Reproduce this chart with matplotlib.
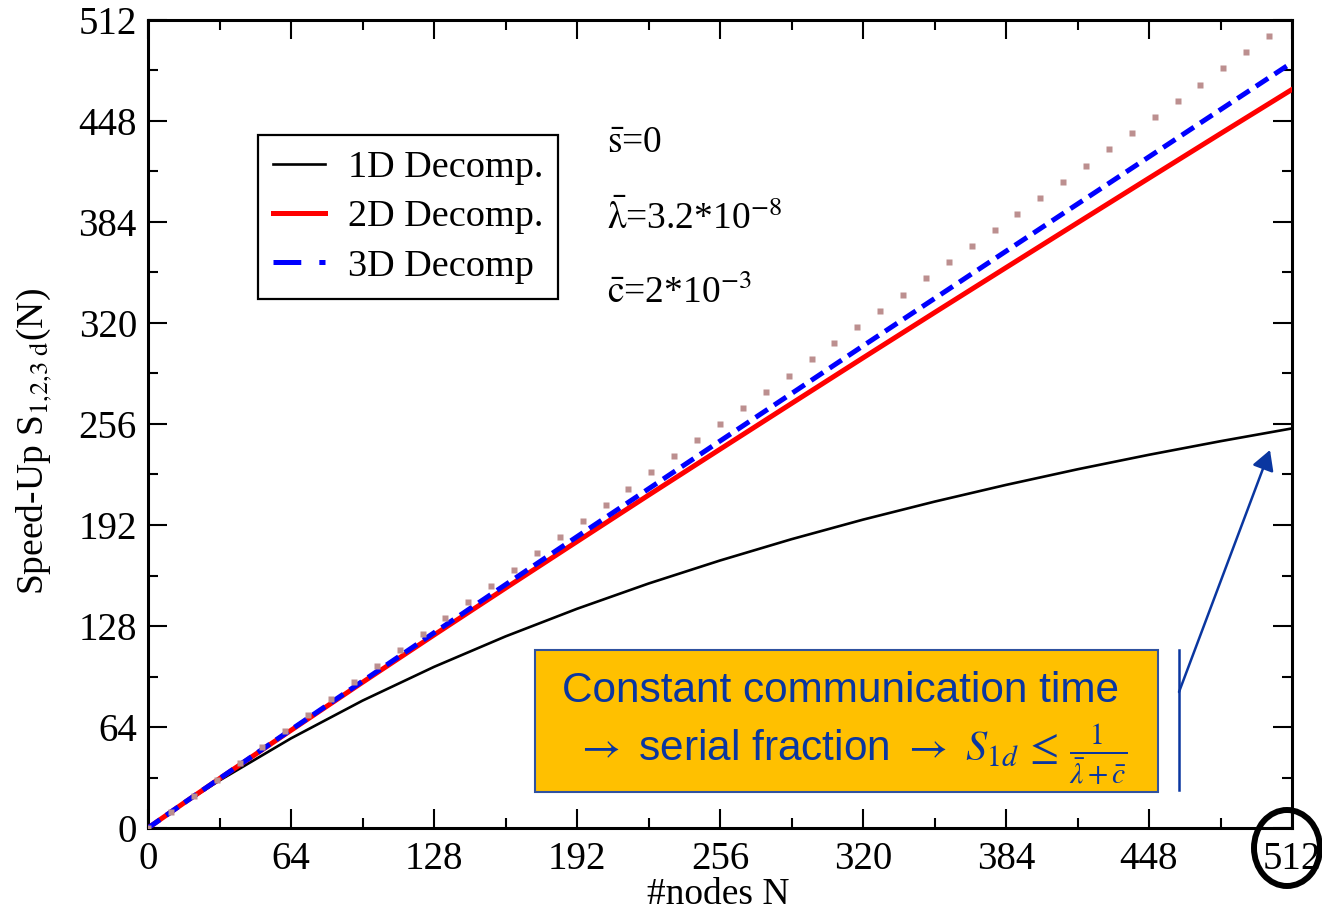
import matplotlib
matplotlib.use('Agg')
import matplotlib.pyplot as plt
from matplotlib.patches import Rectangle, Ellipse, FancyArrowPatch
from matplotlib.lines import Line2D

plt.rcParams['font.family'] = ['Liberation Serif', 'DejaVu Serif']
plt.rcParams['mathtext.fontset'] = 'stix'
plt.rcParams['lines.scale_dashes'] = False

# ---------------- data ----------------
nodes = [0, 16, 32, 64, 96, 128, 160, 192, 224, 256, 288, 320, 352, 384, 416, 448, 480, 512]
speedup_1d = [0, 15.5, 30.1, 56.8, 80.7, 102.1, 121.4, 138.9, 154.9, 169.5, 183.0, 195.4,
              206.8, 217.4, 227.3, 236.5, 245.1, 253.2]
speedup_2d = [0, 15.8, 31.3, 61.9, 92.3, 122.3, 152.0, 181.5, 210.9, 240.0, 269.0, 297.9,
              326.6, 355.1, 383.5, 411.8, 440.0, 468.0]
speedup_3d = [0, 15.8, 31.3, 62.3, 93.0, 123.7, 154.2, 184.6, 214.9, 245.2, 275.3, 305.5,
              335.5, 365.5, 395.4, 425.3, 455.2, 485.0]
ideal_n = [0, 10.2, 20.5, 30.7, 41.0, 51.2, 61.4, 71.7, 81.9, 92.2, 102.4, 112.6, 122.9, 133.1,
           143.4, 153.6, 163.8, 174.1, 184.3, 194.6, 204.8, 215.0, 225.3, 235.5, 245.8, 256.0,
           266.2, 276.5, 286.7, 297.0, 307.2, 317.4, 327.7, 337.9, 348.2, 358.4, 368.6, 378.9,
           389.1, 399.4, 409.6, 419.8, 430.1, 440.3, 450.6, 460.8, 471.0, 481.3, 491.5, 501.8]
ideal_s = [0, 10.2, 20.5, 30.7, 41.0, 51.2, 61.4, 71.7, 81.9, 92.2, 102.4, 112.6, 122.9, 133.1,
           143.4, 153.6, 163.8, 174.1, 184.3, 194.6, 204.8, 215.0, 225.3, 235.5, 245.8, 256.0,
           266.2, 276.5, 286.7, 297.0, 307.2, 317.4, 327.7, 337.9, 348.2, 358.4, 368.6, 378.9,
           389.1, 399.4, 409.6, 419.8, 430.1, 440.3, 450.6, 460.8, 471.0, 481.3, 491.5, 501.8]
major_ticks = [0, 64, 128, 192, 256, 320, 384, 448, 512]
minor_ticks = [32, 96, 160, 224, 288, 352, 416, 480]
legend_labels = ['1D Decomp.', '2D Decomp.', '3D Decomp']

# ---------------- figure ----------------
W, H = 1322, 913
fig = plt.figure(figsize=(W / 100, H / 100), dpi=100)


def fx(x):
    return x / W


def fy(y):
    return 1 - y / H


ax = fig.add_axes([fx(148), fy(828), fx(1292) - fx(148), fy(20) - fy(828)])

ax.plot(nodes, speedup_1d, color='black', lw=1.9, zorder=3)
ax.plot(nodes, speedup_2d, color='#ff0000', lw=3.6, zorder=4)
ax.plot(nodes, speedup_3d, color='#0000ff', lw=3.6, dashes=(10.5, 5.5), zorder=5)
ax.plot(ideal_n, ideal_s, ls='none', marker='s', ms=4.4, color='#bc8f8f', mec='none', zorder=6)

ax.set_xlim(0, 512)
ax.set_ylim(0, 512)
ax.set_xticks(major_ticks)
ax.set_yticks(major_ticks)
ax.set_xticks(minor_ticks, minor=True)
ax.set_yticks(minor_ticks, minor=True)
ax.tick_params(which='both', direction='in', top=True, right=True, width=1.5, colors='black')
ax.tick_params(which='major', length=14, labelsize=28)
ax.tick_params(axis='x', which='major', pad=9)
ax.tick_params(axis='y', which='major', pad=8)
ax.tick_params(which='minor', length=7.5)
for sp in ax.spines.values():
    sp.set_linewidth(2.2)

ax.set_xlabel('#nodes N', fontsize=27)
ax.xaxis.label.set_va('baseline')
ax.xaxis.set_label_coords(fx(718), fy(904), transform=fig.transFigure)
ax.set_ylabel(r'Speed-Up S$_{\mathrm{1{,}2{,}3\ d}}$(N)', fontsize=27)
ax.yaxis.label.set_va('baseline')
ax.yaxis.set_label_coords(fx(43), fy(442), transform=fig.transFigure)

# legend
h1 = Line2D([], [], color='black', lw=1.9)
h2 = Line2D([], [], color='#ff0000', lw=3.6)
h3 = Line2D([], [], color='#0000ff', lw=3.6, dashes=(20, 13, 5, 13))
leg = ax.legend([h1, h2, h3], legend_labels, loc='upper left',
                bbox_to_anchor=(fx(258), fy(135)), bbox_transform=fig.transFigure,
                borderaxespad=0, fontsize=27.5, handlelength=1.35, handletextpad=0.6,
                borderpad=0.4, labelspacing=0.38, fancybox=False, framealpha=1,
                edgecolor='black')
leg.get_frame().set_linewidth(1.6)

# parameter text
fig.text(fx(607), fy(152), r'$\bar{\mathrm{s}}$=0', fontsize=27, va='baseline')
fig.text(fx(607), fy(229), r'$\bar{\mathrm{\lambda}}$=3.2*10$^{\mathrm{-8}}$', fontsize=27, va='baseline')
fig.text(fx(607), fy(303), r'$\bar{\mathrm{c}}$=2*10$^{\mathrm{-3}}$', fontsize=27, va='baseline')

# annotation box
dark_blue = '#0a36a0'
rect = Rectangle((fx(535), fy(792)), fx(1158) - fx(535), fy(650) - fy(792),
                 transform=fig.transFigure, facecolor='#ffc000', edgecolor='#2f52a0', lw=1.5)
fig.add_artist(rect)
sans = ['Liberation Sans', 'DejaVu Sans']
fig.text(fx(840), fy(702), 'Constant communication time', ha='center', va='baseline',
         fontsize=30.5, color=dark_blue, family=sans)
fig.text(fx(851), fy(760), r'$\rightarrow$ serial fraction $\rightarrow$ $S_{1d}\,\leq\,\frac{1}{\bar{\lambda}+\bar{c}}$',
         ha='center', va='baseline', fontsize=30.5, color=dark_blue, family=sans)

fig.add_artist(Line2D([fx(1179), fx(1179)], [fy(650), fy(790)], transform=fig.transFigure,
                      color=dark_blue, lw=1.8))
arrow = FancyArrowPatch((fx(1179), fy(692)), (fx(1270), fy(450)), transform=fig.transFigure,
                        arrowstyle='-|>,head_length=0.8,head_width=0.45', mutation_scale=15,
                        color=dark_blue, lw=1.8, shrinkA=0, shrinkB=0)
fig.add_artist(arrow)

circ = Ellipse((fx(1287), fy(848)), 66 / W, 76 / H, transform=fig.transFigure,
               fill=False, ec='black', lw=4.3)
fig.add_artist(circ)

fig.savefig('out.png', dpi=100)
